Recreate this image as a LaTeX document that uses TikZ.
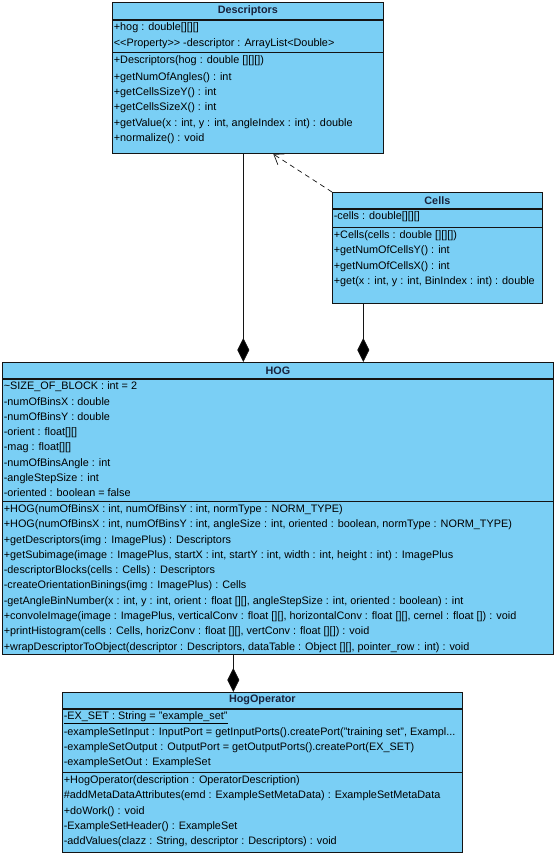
\documentclass[tikz,border=0pt]{standalone}
\usepackage{fontspec}
\setmainfont{Liberation Sans}
\usetikzlibrary{arrows.meta}
\definecolor{umlfill}{RGB}{122,207,245}
\definecolor{umltitle}{RGB}{25,35,60}
\definecolor{umlline}{RGB}{20,20,20}
\newcommand\cbox[3]{\parbox[c][#2pt][t]{#1pt}{\raggedright\leftskip=1.5pt\relax\strut #3}}
\tikzset{
  ttl/.style={draw=umlline, fill=umlfill, line width=0.7pt, anchor=north west, inner sep=0pt,
    font=\bfseries\fontsize{10.8}{12}\selectfont, text=umltitle},
  part/.style={draw=umlline, fill=umlfill, line width=0.7pt, anchor=north west, inner sep=0pt,
    font=\fontsize{10.85}{15.3}\selectfont},
  comp/.style={draw=umlline, line width=0.8pt, -{Diamond[length=24pt,width=12pt,fill=black]}},
  dep/.style={draw=umlline, line width=0.7pt, dash pattern=on 5pt off 4pt,
    -{Straight Barb[length=9pt,width=13pt]}}
}
\begin{document}
\begin{tikzpicture}[x=1pt,y=-1pt]
\useasboundingbox (0,0) rectangle (556,856);
% Descriptors
\node[ttl, minimum width=271pt, minimum height=17pt] (desc-t) at (112,2) {Descriptors};
\node[part] (desc-a) at (desc-t.south west) {\cbox{271}{32}{+hog : double[][][]\\
<{}<Property>{}> -descriptor : ArrayList<Double>}};
\node[part] (desc-m) at (desc-a.south west) {\cbox{271}{101}{\vspace*{1.5pt}+Descriptors(hog : double [][][])\\
+getNumOfAngles() : int\\
+getCellsSizeY() : int\\
+getCellsSizeX() : int\\
+getValue(x : int, y : int, angleIndex : int) : double\\
+normalize() : void}};
% Cells
\node[ttl, minimum width=210pt, minimum height=16pt] (cells-t) at (332,192) {Cells};
\node[part] (cells-a) at (cells-t.south west) {\cbox{210}{18}{-cells : double[][][]}};
\node[part] (cells-m) at (cells-a.south west) {\cbox{210}{76}{+Cells(cells : double [][][])\\
+getNumOfCellsY() : int\\
+getNumOfCellsX() : int\\
+get(x : int, y : int, BinIndex : int) : double}};
% HOG
\node[ttl, minimum width=551pt, minimum height=16pt] (hog-t) at (2,362) {HOG};
\node[part] (hog-a) at (hog-t.south west) {\cbox{551}{122}{\textasciitilde SIZE\_OF\_BLOCK : int = 2\\
-numOfBinsX : double\\
-numOfBinsY : double\\
-orient : float[][]\\
-mag : float[][]\\
-numOfBinsAngle : int\\
-angleStepSize : int\\
-oriented : boolean = false}};
\node[part] (hog-m) at (hog-a.south west) {\cbox{551}{153}{+HOG(numOfBinsX : int, numOfBinsY : int, normType : NORM\_TYPE)\\
+HOG(numOfBinsX : int, numOfBinsY : int, angleSize : int, oriented : boolean, normType : NORM\_TYPE)\\
+getDescriptors(img : ImagePlus) : Descriptors\\
+getSubimage(image : ImagePlus, startX : int, startY : int, width : int, height : int) : ImagePlus\\
-descriptorBlocks(cells : Cells) : Descriptors\\
-createOrientationBinings(img : ImagePlus) : Cells\\
-getAngleBinNumber(x : int, y : int, orient : float [][], angleStepSize : int, oriented : boolean) : int\\
+convoleImage(image : ImagePlus, verticalConv : float [][], horizontalConv : float [][], cernel : float []) : void\\
+printHistogram(cells : Cells, horizConv : float [][], vertConv : float [][]) : void\\
+wrapDescriptorToObject(descriptor : Descriptors, dataTable : Object [][], pointer\_row : int) : void}};
% HogOperator
\node[ttl, minimum width=400pt, minimum height=16pt] (op-t) at (62,692) {HogOperator};
\node[part] (op-a) at (op-t.south west) {\cbox{400}{63}{\underline{-EX\_SET : String = "example\_set"}\\
-exampleSetInput : InputPort = getInputPorts().createPort("training set", Exampl...\\
-exampleSetOutput : OutputPort = getOutputPorts().createPort(EX\_SET)\\
-exampleSetOut : ExampleSet}};
\node[part] (op-m) at (op-a.south west) {\cbox{400}{80}{+HogOperator(description : OperatorDescription)\\
\#addMetaDataAttributes(emd : ExampleSetMetaData) : ExampleSetMetaData\\
+doWork() : void\\
-ExampleSetHeader() : ExampleSet\\
-addValues(clazz : String, descriptor : Descriptors) : void}};
% connectors
\coordinate (c1) at ([xshift=-4.5pt]desc-m.south);
\coordinate (c2) at ([xshift=-74pt]cells-m.south);
\coordinate (c3) at ([xshift=-44.5pt]hog-m.south);
\coordinate (c4) at ([xshift=25.5pt]desc-m.south);
\draw[comp] (c1) -- (c1 |- hog-t.north);
\draw[comp] (c2) -- (c2 |- hog-t.north);
\draw[comp] (c3) -- (c3 |- op-t.north);
\draw[dep] (cells-t.north west) -- (c4);
\end{tikzpicture}
\end{document}
